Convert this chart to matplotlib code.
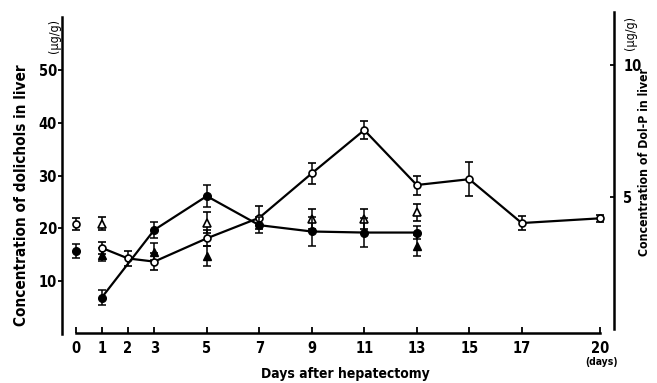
import matplotlib.pyplot as plt

plt.rcParams['font.family'] = ['DejaVu Sans']
plt.rcParams['font.stretch'] = 'condensed'
plt.rcParams['font.weight'] = 'bold'

# dolichols (open circles), control point at day 0 is drawn apart
dia_oc0 = [0]
val_oc0 = [20.8]
err_oc0 = [1.1]
dias_oc = [1, 2, 3, 5, 7, 9, 11, 13, 15, 17, 20]
val_oc = [16.3, 14.3, 13.7, 18.1, 22.0, 30.4, 38.6, 28.2, 29.3, 21.0, 21.9]
err_oc = [1.2, 1.5, 1.6, 1.5, 2.2, 2.0, 1.7, 1.8, 3.2, 1.4, 0.7]

# filled circles
dia_fc0 = [0]
val_fc0 = [15.7]
err_fc0 = [1.3]
dias_fc = [1, 3, 5, 7, 9, 11, 13]
val_fc = [6.9, 19.7, 26.1, 20.6, 19.4, 19.2, 19.2]
err_fc = [1.4, 1.5, 2.1, 1.5, 2.7, 2.7, 1.2]

# triangles (not joined)
dias_ot = [1, 5, 9, 11, 13]
val_ot = [20.9, 21.1, 21.8, 21.8, 23.0]
err_ot = [1.3, 1.9, 1.9, 1.9, 1.6]
dias_ft = [1, 3, 5, 13]
val_ft = [15.0, 15.6, 14.8, 16.7]
err_ft = [1.2, 1.6, 1.9, 2.0]

dias_ticks = [0, 1, 2, 3, 5, 7, 9, 11, 13, 15, 17, 20]
yticks_esq = [10, 20, 30, 40, 50]
yticks_dir = [5, 10]

fig = plt.figure(figsize=(6.57, 3.83), dpi=100)
ax = fig.add_axes([62.4 / 657, 1 - 340 / 383, 551.2 / 657, 330 / 383])
ax.set_xlim(-0.5, 20.5)
ax.set_ylim(-1.14, 61.33)

estilo_barra = dict(capsize=3, elinewidth=1.1, capthick=1.1, ecolor='black')

ax.errorbar(dias_oc, val_oc, yerr=err_oc, fmt='-o', color='black', lw=1.6,
            ms=5, mfc='white', mec='black', mew=1.2, zorder=3, **estilo_barra)
ax.errorbar(dia_oc0, val_oc0, yerr=err_oc0, fmt='o', color='black',
            ms=5, mfc='white', mec='black', mew=1.2, zorder=3, **estilo_barra)
ax.errorbar(dias_fc, val_fc, yerr=err_fc, fmt='-o', color='black', lw=1.6,
            ms=5.5, mfc='black', mec='black', zorder=4, **estilo_barra)
ax.errorbar(dia_fc0, val_fc0, yerr=err_fc0, fmt='o', color='black',
            ms=5.5, mfc='black', mec='black', zorder=4, **estilo_barra)
ax.errorbar(dias_ot, val_ot, yerr=err_ot, fmt='^', color='black',
            ms=6, mfc='white', mec='black', mew=1.2, zorder=3, **estilo_barra)
ax.errorbar(dias_ft, val_ft, yerr=err_ft, fmt='^', color='black',
            ms=6, mfc='black', mec='black', zorder=3, **estilo_barra)

# eixos
for s in ['top', 'right']:
    ax.spines[s].set_visible(False)
ax.spines['left'].set_bounds(0, 60)
ax.spines['left'].set_linewidth(1.8)
ax.spines['bottom'].set_position(('data', 0.2))
ax.spines['bottom'].set_bounds(0, 20)
ax.spines['bottom'].set_linewidth(1.8)

ax.set_xticks(dias_ticks)
ax.set_xticklabels([str(d) for d in dias_ticks])
ax.tick_params(axis='x', direction='in', length=4, width=1.3, pad=6, labelsize=10.5)
ax.set_yticks(yticks_esq)
ax.tick_params(axis='y', direction='out', length=3, width=1.3, pad=1, labelsize=10.5)

ax2 = ax.twinx()
ax2.set_ylim((-1.14 - 0.95) / 5, (61.33 - 0.95) / 5)
for s in ['top', 'left', 'bottom']:
    ax2.spines[s].set_visible(False)
ax2.spines['right'].set_bounds(0, 12)
ax2.spines['right'].set_linewidth(1.8)
ax2.set_yticks(yticks_dir)
ax2.tick_params(axis='y', direction='in', length=3, width=1.3, pad=7, labelsize=10.5)

# textos
fig.text(22 / 657, 1 - 195 / 383, 'Concentration of dolichols in liver',
         rotation=90, ha='center', va='center', fontsize=11)
fig.text(54 / 657, 1 - 36 / 383, '(µg/g)', rotation=90, ha='center',
         va='center', fontsize=9, fontweight='normal')
fig.text(645 / 657, 1 - 162 / 383, 'Concentration of Dol-P in liver',
         rotation=90, ha='center', va='center', fontsize=8.8)
fig.text(631 / 657, 1 - 33 / 383, '(µg/g)', rotation=90, ha='center',
         va='center', fontsize=9, fontweight='normal')
fig.text(345.5 / 657, 1 - 374 / 383, 'Days after hepatectomy',
         ha='center', va='center', fontsize=10)
fig.text(601 / 657, 1 - 362 / 383, '(days)', ha='center', va='center', fontsize=7.5)

fig.savefig('out.png', dpi=100)
